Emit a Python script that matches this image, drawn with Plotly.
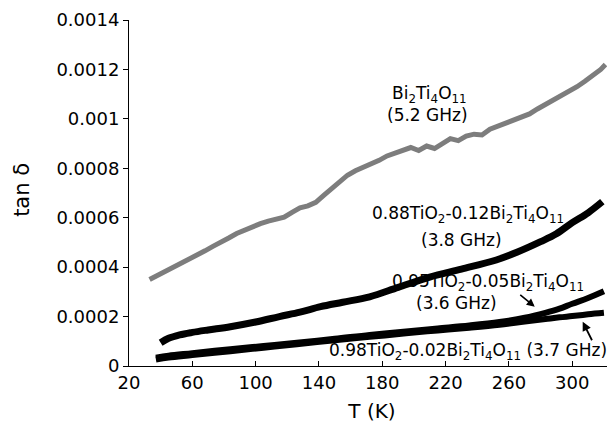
import plotly.graph_objects as go

# ---------------- data ----------------
bi_T = [33, 38, 43, 48, 53, 58, 63, 68, 73, 78, 83, 88, 93, 98, 103, 108, 113, 118,
        123, 128, 133, 138, 143, 148, 153, 158, 163, 168, 173, 178, 183, 188, 193, 198,
        203, 208, 213, 218, 223, 228, 233, 238, 243, 248, 253, 258, 263, 268, 273, 278,
        283, 288, 293, 298, 303, 308, 313, 318, 321]
bi_tan = [0.000350, 0.000366, 0.000384, 0.000401, 0.000419, 0.000434, 0.000451, 0.000466,
          0.000484, 0.000499, 0.000518, 0.000536, 0.000551, 0.000566, 0.000576, 0.000586,
          0.000596, 0.000602, 0.000622, 0.000640, 0.000648, 0.000662, 0.000690, 0.000718,
          0.000745, 0.000772, 0.000790, 0.000803, 0.000820, 0.000832, 0.000850, 0.000860,
          0.000872, 0.000884, 0.000872, 0.000890, 0.000880, 0.000900, 0.000920, 0.000912,
          0.000930, 0.000938, 0.000935, 0.000958, 0.000970, 0.000982, 0.000995, 0.001005,
          0.001020, 0.001040, 0.001058, 0.001072, 0.001090, 0.001108, 0.001130, 0.001152,
          0.001175, 0.001200, 0.001220]

t88_T = [40, 45, 52, 60, 70, 84, 100, 115, 128, 141, 155, 172, 190, 210, 230, 252, 265,
         280, 290, 300, 310, 319]
t88_tan = [0.000094, 0.000112, 0.000126, 0.000136, 0.000146, 0.000159, 0.000178, 0.000200,
           0.000218, 0.000240, 0.000258, 0.000280, 0.000318, 0.000360, 0.000392, 0.000429,
           0.000460, 0.000503, 0.000535, 0.000580, 0.000620, 0.000665]

t95_T = [37, 45, 60, 84, 105, 126, 150, 172, 195, 215, 235, 254, 270, 283, 292, 300, 310, 320]
t95_tan = [0.000034, 0.000042, 0.000052, 0.000068, 0.000081, 0.000094, 0.000110, 0.000126,
           0.000140, 0.000152, 0.000164, 0.000178, 0.000195, 0.000215, 0.000232, 0.000252,
           0.000275, 0.000302]

t98_T = [37, 45, 60, 84, 105, 126, 150, 172, 195, 215, 235, 254, 270, 283, 292, 300, 310, 320]
t98_tan = [0.000026, 0.000034, 0.000044, 0.000060, 0.000074, 0.000088, 0.000104, 0.000118,
           0.000132, 0.000144, 0.000155, 0.000167, 0.000180, 0.000190, 0.000197, 0.000202,
           0.000209, 0.000215]

x_ticks = [20, 60, 100, 140, 180, 220, 260, 300]
y_ticks = [0, 0.0002, 0.0004, 0.0006, 0.0008, 0.001, 0.0012, 0.0014]
y_ticktext = ["0", "0.0002", "0.0004", "0.0006", "0.0008", "0.001", "0.0012", "0.0014"]

FONT = "DejaVu Sans"

fig = go.Figure()
fig.add_trace(go.Scatter(x=bi_T, y=bi_tan, mode="lines",
                         line=dict(color="#7d7d7d", width=5), showlegend=False))
fig.add_trace(go.Scatter(x=t88_T, y=t88_tan, mode="lines",
                         line=dict(color="black", width=7, shape="spline"), showlegend=False))
fig.add_trace(go.Scatter(x=t95_T, y=t95_tan, mode="lines",
                         line=dict(color="black", width=6, shape="spline"), showlegend=False))
fig.add_trace(go.Scatter(x=t98_T, y=t98_tan, mode="lines",
                         line=dict(color="black", width=6, shape="spline"), showlegend=False))

ann_font = dict(family=FONT, size=17, color="black")
labels = [
    ("Bi<sub>2</sub>Ti<sub>4</sub>O<sub>11</sub>", 210, 0.001097),
    ("(5.2 GHz)", 208.5, 0.001016),
    ("0.88TiO<sub>2</sub>-0.12Bi<sub>2</sub>Ti<sub>4</sub>O<sub>11</sub>", 234, 0.000612),
    ("(3.8 GHz)", 230, 0.000510),
    ("0.95TiO<sub>2</sub>-0.05Bi<sub>2</sub>Ti<sub>4</sub>O<sub>11</sub>", 247, 0.000336),
    ("(3.6 GHz)", 227, 0.000255),
    ("0.98TiO<sub>2</sub>-0.02Bi<sub>2</sub>Ti<sub>4</sub>O<sub>11</sub> (3.7 GHz)", 234, 0.000057),
]
for txt, x, y in labels:
    fig.add_annotation(x=x, y=y, xref="x", yref="y", text=txt, showarrow=False,
                       font=ann_font, xanchor="center", yanchor="middle")

# arrows
fig.add_annotation(x=276.3, y=0.000240, xref="x", yref="y", text="", showarrow=True,
                   ax=-16, ay=-13, arrowhead=2, arrowsize=1, arrowwidth=1.6,
                   arrowcolor="black")
fig.add_annotation(x=306.6, y=0.000179, xref="x", yref="y", text="", showarrow=True,
                   ax=10, ay=20, arrowhead=2, arrowsize=1, arrowwidth=1.8,
                   arrowcolor="black")

# y-axis title placed as a rotated annotation (plotly clamps titles inside margin)
fig.add_annotation(x=-0.2202, y=0.509, xref="paper", yref="paper", text="tan δ",
                   textangle=-90, showarrow=False, xanchor="center", yanchor="middle",
                   font=dict(family=FONT, size=21, color="black"))

# the page body has an 8px margin, so the figure is shrunk/shifted to compensate
fig.update_layout(
    width=607, height=418,
    margin=dict(l=121, r=0, t=12, b=60),
    paper_bgcolor="white", plot_bgcolor="white",
    font=dict(family=FONT, color="black"),
    xaxis=dict(range=[20, 327], tickvals=x_ticks, ticks="inside", ticklen=5,
               tickcolor="black", showline=True, linecolor="black", linewidth=1,
               showgrid=False, zeroline=False, tickfont=dict(size=18, family=FONT),
               title=dict(text="T (K)", font=dict(size=20, family=FONT), standoff=12)),
    yaxis=dict(range=[0, 0.0014], tickvals=y_ticks, ticktext=y_ticktext, ticks="outside",
               ticklen=5, tickcolor="black", showline=True, linecolor="black",
               linewidth=1, showgrid=False, zeroline=False,
               tickfont=dict(size=18, family=FONT)),
)

fig.write_html("out.html")
